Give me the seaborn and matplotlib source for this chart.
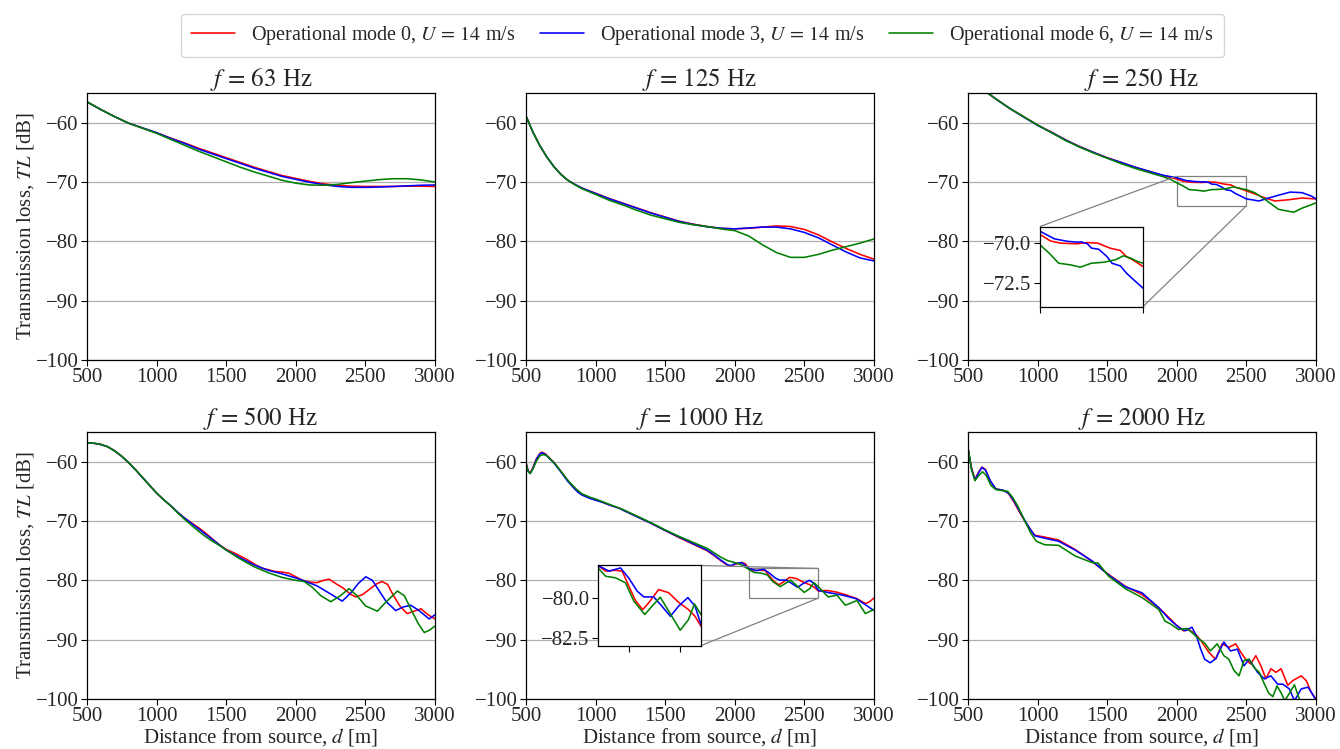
import matplotlib
matplotlib.use("Agg")
import matplotlib.pyplot as plt
import seaborn as sns
from mpl_toolkits.axes_grid1.inset_locator import mark_inset

# ---------------- data ----------------
labels = [r"Operational mode 0, $U\,=\,14$ m/s",
          r"Operational mode 3, $U\,=\,14$ m/s",
          r"Operational mode 6, $U\,=\,14$ m/s"]
colors = ["red", "blue", "green"]
titles = [r"$f\,=\,63$ Hz", r"$f\,=\,125$ Hz", r"$f\,=\,250$ Hz",
          r"$f\,=\,500$ Hz", r"$f\,=\,1000$ Hz", r"$f\,=\,2000$ Hz"]
x_ticks = [500, 1000, 1500, 2000, 2500, 3000]
y_ticks = [-100, -90, -80, -70, -60]

# f = 63 Hz
d_63 = [500, 600, 700, 800, 900, 1000, 1100, 1200, 1300, 1400, 1500, 1600, 1700,
        1800, 1900, 2000, 2100, 2200, 2300, 2400, 2500, 2600, 2700, 2800, 2900, 3000]
tl_63_m0 = [-56.5, -57.8, -59.0, -60.1, -60.9, -61.7, -62.6, -63.4, -64.3, -65.1, -65.9, -66.7, -67.5,
            -68.2, -68.9, -69.4, -69.9, -70.3, -70.55, -70.7, -70.75, -70.75, -70.75, -70.7, -70.7, -70.75]
tl_63_m3 = [-56.5, -57.8, -59.0, -60.1, -60.9, -61.7, -62.65, -63.5, -64.45, -65.25, -66.05, -66.85, -67.65,
            -68.35, -69.05, -69.55, -70.05, -70.45, -70.75, -70.9, -70.9, -70.85, -70.75, -70.65, -70.55, -70.5]
tl_63_m6 = [-56.5, -57.8, -59.0, -60.1, -60.95, -61.8, -62.8, -63.8, -64.8, -65.7, -66.6, -67.5, -68.3,
            -69.0, -69.7, -70.2, -70.5, -70.55, -70.4, -70.1, -69.85, -69.6, -69.45, -69.45, -69.65, -70.0]

# f = 125 Hz
d_125 = [500, 550, 600, 650, 700, 750, 800, 850, 900, 1000, 1100, 1200, 1300, 1400, 1500, 1600,
         1700, 1800, 1900, 2000, 2100, 2200, 2300, 2400, 2500, 2600, 2700, 2800, 2900, 3000]
tl_125_m0 = [-58.9, -61.6, -63.9, -65.8, -67.4, -68.7, -69.7, -70.4, -71.0, -71.9, -72.8, -73.6, -74.4,
             -75.2, -75.9, -76.6, -77.1, -77.5, -77.8, -77.9, -77.8, -77.6, -77.4, -77.5, -78.0, -78.9,
             -80.1, -81.2, -82.2, -83.0]
tl_125_m3 = [-58.9, -61.6, -63.9, -65.8, -67.4, -68.7, -69.7, -70.4, -71.0, -71.95, -72.85, -73.65,
             -74.45, -75.25, -75.95, -76.65, -77.15, -77.55, -77.8, -77.9, -77.75, -77.6, -77.6, -77.9,
             -78.5, -79.4, -80.6, -81.8, -82.8, -83.3]
tl_125_m6 = [-58.9, -61.6, -63.9, -65.8, -67.4, -68.7, -69.7, -70.45, -71.1, -72.1, -73.1, -73.9, -74.8,
             -75.6, -76.2, -76.8, -77.2, -77.5, -77.9, -78.2, -79.1, -80.6, -81.9, -82.7, -82.7, -82.2,
             -81.5, -80.9, -80.3, -79.6]

# f = 250 Hz
d_250_m0 = [500, 600, 700, 800, 900, 1000, 1100, 1200, 1300, 1400, 1500, 1600, 1700, 1800, 1900,
            2000, 2050, 2100, 2180, 2230, 2280, 2340, 2390, 2420, 2450, 2500, 2560, 2635, 2705, 2800,
            2900, 3000]
tl_250_m0 = [-52.3, -54.3, -56.0, -57.6, -59.0, -60.4, -61.6, -62.9, -64.0, -65.0, -65.9, -66.7, -67.5,
             -68.2, -68.9, -69.5, -69.9, -70.04, -70.08, -70.0, -70.04, -70.35, -70.5, -70.88, -71.08,
             -71.5, -72.0, -72.7, -73.2, -73.0, -72.7, -72.85]
d_250_m3 = [500, 600, 700, 800, 900, 1000, 1100, 1200, 1300, 1400, 1500, 1600, 1700, 1800, 1900,
            2000, 2070, 2130, 2180, 2200, 2230, 2250, 2285, 2325, 2350, 2390, 2420, 2455, 2500, 2540,
            2590, 2660, 2750, 2815, 2900, 2970, 3000]
tl_250_m3 = [-52.3, -54.3, -56.0, -57.6, -59.05, -60.45, -61.65, -62.9, -64.05, -65.0, -65.95, -66.7,
             -67.5, -68.2, -68.85, -69.3, -69.77, -69.92, -69.98, -69.96, -70.08, -70.35, -70.42, -70.88,
             -71.3, -71.46, -71.92, -72.33, -72.85, -73.0, -73.2, -72.7, -72.1, -71.7, -71.8, -72.4,
             -72.85]
d_250_m6 = [500, 600, 700, 800, 900, 1000, 1100, 1200, 1300, 1400, 1500, 1600, 1700, 1800, 1900,
            1950, 2000, 2045, 2090, 2150, 2195, 2250, 2310, 2365, 2405, 2440, 2475, 2500, 2560, 2635,
            2730, 2840, 2900, 2970, 3000]
tl_250_m6 = [-52.3, -54.3, -56.0, -57.6, -59.0, -60.4, -61.7, -63.0, -64.1, -65.1, -66.0, -66.9, -67.7,
             -68.4, -69.1, -69.5, -70.15, -70.67, -71.29, -71.4, -71.54, -71.29, -71.23, -71.08, -70.83,
             -70.98, -71.19, -71.29, -71.8, -72.96, -74.6, -75.1, -74.4, -73.8, -73.5]

# f = 500 Hz
d_500_m0 = [500, 550, 600, 650, 700, 750, 800, 850, 900, 950, 1000, 1050, 1100, 1150, 1200, 1250,
            1300, 1350, 1400, 1450, 1500, 1550, 1600, 1650, 1700, 1750, 1800, 1850, 1900, 1950, 2000,
            2050, 2100, 2150, 2200, 2240, 2290, 2340, 2390, 2430, 2480, 2530, 2580, 2620, 2660, 2700,
            2750, 2800, 2850, 2900, 2950, 3000]
tl_500_m0 = [-56.8, -56.9, -57.1, -57.5, -58.2, -59.1, -60.2, -61.4, -62.7, -64.0, -65.3, -66.4, -67.4,
             -68.5, -69.5, -70.3, -71.1, -72.0, -73.0, -74.0, -74.8, -75.3, -75.9, -76.5, -77.2, -77.9,
             -78.2, -78.5, -78.6, -78.8, -79.4, -80.0, -80.3, -80.4, -80.0, -79.8, -80.6, -81.3, -82.3,
             -82.8, -82.4, -81.5, -80.6, -80.2, -80.7, -82.5, -84.4, -85.6, -85.2, -84.8, -85.8, -86.5]
d_500_m3 = [500, 550, 600, 650, 700, 750, 800, 850, 900, 950, 1000, 1050, 1100, 1150, 1200, 1250,
            1300, 1350, 1400, 1450, 1500, 1600, 1700, 1800, 1900, 2000, 2060, 2150, 2250, 2334, 2400,
            2450, 2503, 2550, 2600, 2650, 2718, 2770, 2826, 2880, 2958, 3000]
tl_500_m3 = [-56.8, -56.9, -57.1, -57.5, -58.2, -59.1, -60.2, -61.4, -62.7, -64.0, -65.3, -66.4, -67.4,
             -68.5, -69.5, -70.4, -71.3, -72.2, -73.1, -74.0, -74.9, -76.2, -77.4, -78.3, -78.9, -79.6,
             -80.1, -80.9, -82.3, -83.5, -82.0, -80.5, -79.4, -80.0, -81.8, -83.6, -85.1, -84.5, -84.2,
             -85.0, -86.5, -85.8]
d_500_m6 = [500, 550, 600, 650, 700, 750, 800, 850, 900, 950, 1000, 1050, 1100, 1150, 1200, 1250,
            1300, 1350, 1400, 1450, 1500, 1600, 1700, 1800, 1900, 2000, 2060, 2120, 2180, 2251, 2320,
            2383, 2440, 2500, 2586, 2650, 2730, 2780, 2830, 2880, 2923, 2960, 3000]
tl_500_m6 = [-56.8, -56.9, -57.1, -57.5, -58.2, -59.1, -60.2, -61.4, -62.7, -64.0, -65.3, -66.4, -67.4,
             -68.6, -69.7, -70.7, -71.7, -72.6, -73.4, -74.1, -74.9, -76.4, -77.7, -78.7, -79.5, -80.0,
             -80.2, -81.2, -82.6, -83.6, -82.6, -81.4, -82.6, -84.3, -85.2, -83.6, -81.8, -82.6, -85.0,
             -87.3, -88.8, -88.4, -87.7]

# f = 1000 Hz
d_1000_m0 = [500, 515, 530, 550, 575, 600, 615, 640, 670, 700, 750, 800, 850, 876, 900, 960, 1000, 1056,
             1100, 1176, 1200, 1300, 1400, 1500, 1600, 1700, 1800, 1850, 1900, 1950, 1975, 2000, 2050,
             2075, 2100, 2137, 2185, 2217, 2250, 2282, 2317, 2346, 2394, 2443, 2491, 2539, 2571, 2600,
             2662, 2734, 2806, 2878, 2938, 2962, 3000]
tl_1000_m0 = [-60.2, -61.5, -61.9, -61.0, -59.5, -58.6, -58.4, -58.7, -59.4, -60.1, -61.6, -63.2, -64.5,
              -65.1, -65.5, -66.1, -66.4, -66.9, -67.3, -67.9, -68.2, -69.3, -70.4, -71.6, -72.8, -73.9,
              -75.0, -75.8, -76.7, -77.5, -77.6, -77.3, -77.0, -77.2, -78.0, -78.35, -78.3, -78.35,
              -79.3, -80.2, -80.75, -80.33, -79.5, -79.7, -80.3, -80.75, -81.17, -81.8, -81.7, -82.0,
              -82.5, -83.1, -83.9, -83.7, -83.0]
d_1000_m3 = [500, 515, 530, 550, 575, 600, 615, 640, 670, 700, 750, 800, 850, 876, 900, 960, 1000, 1056,
             1100, 1176, 1200, 1300, 1400, 1500, 1600, 1700, 1800, 1850, 1900, 1950, 1975, 2000, 2050,
             2100, 2153, 2209, 2250, 2290, 2322, 2370, 2410, 2451, 2491, 2536, 2571, 2600, 2680, 2776,
             2872, 2944, 3000]
tl_1000_m3 = [-60.3, -61.6, -62.0, -61.1, -59.6, -58.7, -58.5, -58.8, -59.5, -60.2, -61.7, -63.3, -64.6,
              -65.2, -65.6, -66.2, -66.5, -66.9, -67.3, -67.9, -68.2, -69.3, -70.4, -71.6, -72.7, -73.8,
              -74.9, -75.7, -76.6, -77.4, -77.5, -77.2, -77.0, -78.0, -78.35, -78.15, -78.8, -79.6,
              -79.96, -79.96, -80.54, -81.17, -80.54, -80.0, -80.54, -81.7, -82.1, -82.5, -83.1, -84.2,
              -85.1]
d_1000_m6 = [500, 515, 530, 550, 575, 600, 625, 650, 680, 710, 760, 810, 860, 900, 960, 1000, 1100,
             1200, 1300, 1400, 1500, 1600, 1700, 1800, 1900, 1950, 2000, 2050, 2100, 2137, 2185, 2233,
             2274, 2327, 2362, 2402, 2443, 2499, 2539, 2568, 2600, 2671, 2734, 2794, 2878, 2938, 3000]
tl_1000_m6 = [-60.3, -61.6, -62.0, -61.2, -59.9, -59.0, -58.8, -59.0, -59.7, -60.4, -61.9, -63.4, -64.6,
              -65.4, -66.0, -66.3, -67.2, -68.1, -69.2, -70.3, -71.5, -72.6, -73.6, -74.6, -76.1, -76.7,
              -77.0, -77.4, -78.15, -78.67, -78.77, -79.08, -80.23, -81.06, -80.54, -79.98, -80.85,
              -82.04, -81.38, -80.4, -81.06, -82.8, -82.5, -84.2, -83.4, -85.6, -84.9]

# f = 2000 Hz
d_2000_m0 = [500, 525, 550, 575, 600, 625, 660, 700, 750, 790, 830, 870, 910, 950, 980, 1050, 1150,
             1270, 1390, 1510, 1630, 1750, 1870, 1940, 2000, 2048, 2085, 2133, 2181, 2229, 2278, 2326,
             2374, 2423, 2459, 2495, 2531, 2568, 2604, 2640, 2676, 2712, 2749, 2797, 2833, 2894, 2930,
             2966, 3000]
tl_2000_m0 = [-57.8, -61.0, -63.0, -61.8, -60.9, -61.3, -63.3, -64.6, -64.8, -65.3, -66.8, -68.5,
              -70.1, -71.5, -72.4, -72.7, -73.2, -74.8, -76.8, -79.0, -81.0, -82.4, -84.6, -86.2, -87.6,
              -88.5, -88.3, -89.0, -90.4, -92.1, -93.3, -90.7, -91.3, -90.7, -92.1, -93.3, -94.1, -92.7,
              -94.4, -96.6, -94.9, -95.5, -94.9, -97.7, -96.9, -96.1, -96.9, -98.9, -100.0]
d_2000_m3 = [500, 525, 550, 575, 600, 625, 660, 700, 750, 790, 830, 870, 910, 950, 980, 1050, 1150,
             1270, 1390, 1510, 1630, 1750, 1870, 1940, 2012, 2060, 2109, 2145, 2170, 2200, 2240, 2280,
             2338, 2386, 2435, 2483, 2519, 2580, 2628, 2676, 2725, 2761, 2809, 2845, 2894, 2942, 2970,
             3000]
tl_2000_m3 = [-57.8, -61.2, -63.1, -61.9, -61.0, -61.4, -63.2, -64.6, -64.8, -65.3, -66.6, -68.3,
              -70.0, -71.5, -72.5, -72.9, -73.4, -74.9, -76.7, -79.1, -81.1, -82.1, -84.6, -86.4, -87.9,
              -88.5, -87.9, -89.6, -91.5, -93.3, -93.9, -93.2, -90.4, -91.9, -91.6, -94.4, -93.3, -95.5,
              -96.6, -96.1, -97.5, -97.5, -98.3, -100.3, -98.3, -98.0, -99.0, -100.2]
d_2000_m6 = [500, 525, 550, 575, 604, 630, 665, 700, 750, 785, 820, 860, 900, 950, 990, 1050, 1150,
             1270, 1390, 1435, 1510, 1630, 1750, 1870, 1916, 1952, 2013, 2072, 2109, 2145, 2205, 2241,
             2290, 2338, 2374, 2411, 2447, 2483, 2519, 2555, 2592, 2620, 2660, 2690, 2720, 2750, 2775,
             2810, 2845, 2880, 2920, 2960, 3000]
tl_2000_m6 = [-57.6, -61.3, -63.2, -62.4, -61.7, -62.3, -64.0, -64.7, -64.9, -65.0, -66.0, -67.6,
              -69.6, -72.0, -73.4, -74.0, -74.1, -75.9, -77.0, -77.1, -79.3, -81.4, -82.9, -84.9, -86.9,
              -87.3, -88.3, -88.1, -88.8, -89.6, -90.7, -91.9, -90.7, -92.7, -93.3, -95.2, -96.1, -93.5,
              -93.3, -94.7, -95.5, -97.0, -99.0, -99.6, -97.8, -99.0, -100.3, -99.0, -97.6, -100.0,
              -101.5, -102.0, -102.0]

panels = [
    [(d_63, tl_63_m0), (d_63, tl_63_m3), (d_63, tl_63_m6)],
    [(d_125, tl_125_m0), (d_125, tl_125_m3), (d_125, tl_125_m6)],
    [(d_250_m0, tl_250_m0), (d_250_m3, tl_250_m3), (d_250_m6, tl_250_m6)],
    [(d_500_m0, tl_500_m0), (d_500_m3, tl_500_m3), (d_500_m6, tl_500_m6)],
    [(d_1000_m0, tl_1000_m0), (d_1000_m3, tl_1000_m3), (d_1000_m6, tl_1000_m6)],
    [(d_2000_m0, tl_2000_m0), (d_2000_m3, tl_2000_m3), (d_2000_m6, tl_2000_m6)],
]

# insets: panel index -> (xlim, ylim, yticks, xticks, loc1, loc2)
insets = {
    2: ((2000, 2500), (-74, -69), [-70.0, -72.5], [2000, 2500], 2, 4),
    4: ((2100, 2600), (-83, -78), [-80.0, -82.5], [2250, 2500], 1, 4),
}

# ---------------- style ----------------
sns.set_theme(style="ticks")
plt.rcParams['font.family'] = ['Liberation Serif', 'DejaVu Serif']
plt.rcParams['mathtext.fontset'] = 'stix'
plt.rcParams['axes.unicode_minus'] = True

FS = 15
LW = 1.15

fig = plt.figure(figsize=(13.4, 7.49), dpi=100)
W, H = 1340, 749
col_left = [87, 526, 968]
row_top = [93, 432]
aw, ah = 348, 267

for i in range(6):
    r, c = divmod(i, 3)
    rect = [col_left[c] / W, 1 - (row_top[r] + ah) / H, aw / W, ah / H]
    ax = fig.add_axes(rect)
    for (d, tl), col, lab in zip(panels[i], colors, labels):
        sns.lineplot(x=d, y=tl, ax=ax, color=col, linewidth=LW, label=lab,
                     estimator=None, legend=False)
    ax.set_xlim(500, 3000)
    ax.set_ylim(-100, -55)
    ax.set_xticks(x_ticks)
    ax.set_yticks(y_ticks)
    ax.tick_params(labelsize=FS, color='black', length=4, width=0.8, pad=2)
    ax.yaxis.grid(True, color='#b0b0b0', linewidth=0.9)
    ax.xaxis.grid(False)
    for s in ax.spines.values():
        s.set_color('black')
        s.set_linewidth(0.9)
    ax.set_title(titles[i], fontsize=18, pad=5)
    if c == 0:
        ax.set_ylabel(r"Transmission loss, $TL$ [dB]", fontsize=FS, labelpad=0)
    else:
        ax.set_ylabel("")
    if r == 1:
        ax.set_xlabel(r"Distance from source, $d$ [m]", fontsize=FS, labelpad=0)
    else:
        ax.set_xlabel("")

    if i in insets:
        xl, yl, yt, xt, l1, l2 = insets[i]
        axins = ax.inset_axes([0.207, 0.2, 0.296, 0.3])
        for (d, tl), col in zip(panels[i], colors):
            sns.lineplot(x=d, y=tl, ax=axins, color=col, linewidth=LW,
                         estimator=None, legend=False)
        axins.set_xlim(*xl)
        axins.set_ylim(*yl)
        axins.set_yticks(yt)
        axins.set_yticklabels([f"{v:.1f}".replace("-", "\u2212") for v in yt])
        axins.set_xticks(xt)
        axins.set_xticklabels([])
        axins.set_xlabel("")
        axins.set_ylabel("")
        axins.tick_params(labelsize=FS, color='black', length=4, width=0.8, pad=2)
        axins.grid(False)
        axins.set_facecolor('white')
        for s in axins.spines.values():
            s.set_color('black')
            s.set_linewidth(0.9)
        mark_inset(ax, axins, loc1=l1, loc2=l2, fc="none", ec="0.5", lw=0.9)

handles = [plt.Line2D([], [], color=c, lw=LW) for c in colors]
fig.legend(handles, labels, loc='upper center', ncol=3, fontsize=14.5,
           bbox_to_anchor=(0.524, 0.995), frameon=True, fancybox=True,
           edgecolor='#cccccc', columnspacing=1.2, handlelength=2.2,
           handletextpad=0.8, borderpad=0.5)

fig.savefig("out.png", dpi=100)
